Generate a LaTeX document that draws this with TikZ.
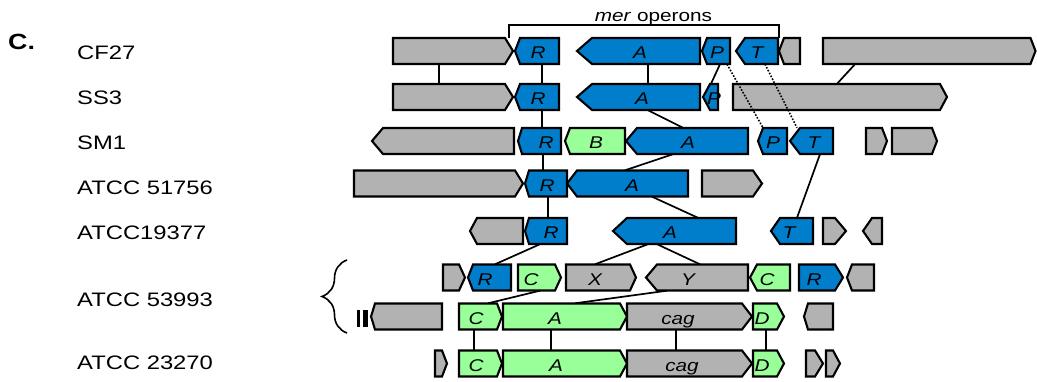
\documentclass[tikz,border=0pt]{standalone}
\usepackage{fontspec}
\setmainfont{Liberation Sans}[FakeStretch=1.22]
\usetikzlibrary{decorations.pathreplacing}

\definecolor{merblue}{RGB}{0,126,204}
\definecolor{orfgreen}{RGB}{153,255,153}
\definecolor{orfgray}{RGB}{178,178,178}

\newcommand{\orffont}{\fontsize{17}{19}\selectfont\itshape}
\newcommand{\strainfont}{\fontsize{19.5}{22}\selectfont}
\def\hh{13}

\tikzset{
  genebox/.style={draw=black, line width=2.1pt, line join=miter},
  grayorf/.style={fill=orfgray},
  blueorf/.style={fill=merblue},
  greenorf/.style={fill=orfgreen},
  geneslot/.style={inner sep=0pt, minimum height=26pt},
  genetext/.style={inner sep=0pt, font=\orffont, text height=12.2pt, text depth=0pt},
  strain/.style={anchor=base west, inner sep=0pt, font=\strainfont},
  link/.style={line width=1.7pt},
  dotlink/.style={line width=1.6pt, dash pattern=on 1.6pt off 1.6pt},
}

% gene pointing right: name, fill, left x, right x (tip), row y, tip length, label x, label
\newcommand{\geneR}[8]{%
  \draw[genebox,#2] (#3,#5-\hh) -- (#4-#6,#5-\hh) -- (#4,#5) -- (#4-#6,#5+\hh) -- (#3,#5+\hh) -- cycle;
  \node[geneslot,minimum width={(#4-#3)*1pt}] (#1) at ({(#3+#4)/2},#5) {};
  \ifx&#8&\else\node[genetext] (#1-t) at (#7,#5+1.5) {#8};\fi}
% gene pointing left: name, fill, left x (tip), right x, row y, tip length, label x, label
\newcommand{\geneL}[8]{%
  \draw[genebox,#2] (#3,#5) -- (#3+#6,#5-\hh) -- (#4,#5-\hh) -- (#4,#5+\hh) -- (#3+#6,#5+\hh) -- cycle;
  \node[geneslot,minimum width={(#4-#3)*1pt}] (#1) at ({(#3+#4)/2},#5) {};
  \ifx&#8&\else\node[genetext] (#1-t) at (#7,#5+1.5) {#8};\fi}

\begin{document}
\begin{tikzpicture}[x=1pt, y=-1pt]
\useasboundingbox (0,0) rectangle (1037,382);

% panel letter and strain names
\node[anchor=base west, inner sep=0pt, font=\fontsize{22}{24}\selectfont\bfseries] (panel) at (8,50) {C.};
\node[strain] (sCF) at (77,60) {CF27};
\node[strain] (sSS) at (77,105) {SS3};
\node[strain] (sSM) at (77,150) {SM1};
\node[strain] (sA1) at (77,195) {ATCC 51756};
\node[strain] (sA2) at (77,240) {ATCC19377};
\node[strain] (sA3) at (77,307) {ATCC 53993};
\node[strain] (sA4) at (77,370) {ATCC 23270};

% mer operon bracket
\coordinate (merL) at (509,38);
\coordinate (merR) at (779,38);
\draw[line width=1.5pt] (merL) |- (644,25) -| (merR);
\node[anchor=base, inner sep=0pt, font=\fontsize{17}{19}\selectfont] (merlbl) at (653.5,21.5) {\textit{mer} operons};

% brace grouping the two ATCC 53993 contigs
\coordinate (brBot) at (347,333);
\coordinate (brTop) at (347,260);
\draw[line width=1.6pt, decorate, decoration={brace, amplitude=25pt}] (brBot) -- (brTop);

% contig break mark
\fill (356.5,310) rectangle (360,327);
\fill (363,310) rectangle (367.5,327);

% CF27
\geneR{a1}{grayorf}{393}{513}{51}{8}{0}{}
\geneL{a2}{blueorf}{515}{559}{51}{5}{538}{R}
\geneL{a3}{blueorf}{577}{700}{51}{15}{640}{A}
\geneL{a4}{blueorf}{702}{730}{51}{5}{717}{P}
\geneL{a5}{blueorf}{736}{778}{51}{9}{757}{T}
\geneL{a6}{grayorf}{779}{800}{51}{5}{0}{}
\geneR{a7}{grayorf}{823}{1035.5}{51}{5}{0}{}

% SS3
\geneR{b1}{grayorf}{393}{513}{97}{8}{0}{}
\geneL{b2}{blueorf}{515}{559}{97}{5}{538}{R}
\geneL{b3}{blueorf}{577}{700}{97}{15}{642}{A}
\geneL{b4}{blueorf}{703}{718}{97}{7}{714}{P}
\geneR{b5}{grayorf}{733}{947}{97}{7}{0}{}

% SM1
\geneL{c1}{grayorf}{372}{514}{141}{11}{0}{}
\geneL{c2}{blueorf}{518}{561}{141}{4}{546}{R}
\geneL{c3}{greenorf}{565}{625}{141}{5}{596}{B}
\geneL{c4}{blueorf}{626}{748}{141}{11}{688}{A}
\geneL{c5}{blueorf}{758}{787}{141}{5}{773}{P}
\geneL{c6}{blueorf}{790}{833}{141}{10}{814}{T}
\geneR{c7}{grayorf}{866}{887}{141}{5}{0}{}
\geneR{c8}{grayorf}{892}{937}{141}{5}{0}{}

% ATCC 51756
\geneR{d1}{grayorf}{354}{523}{183.5}{8}{0}{}
\geneL{d2}{blueorf}{525}{567}{183.5}{4}{547}{R}
\geneL{d3}{blueorf}{567}{688}{183.5}{10}{632}{A}
\geneR{d4}{grayorf}{702}{762}{183.5}{9}{0}{}

% ATCC19377
\geneL{e1}{grayorf}{470}{523}{231}{7}{0}{}
\geneL{e2}{blueorf}{525}{567}{231}{4}{551}{R}
\geneL{e3}{blueorf}{613}{736}{231}{14}{670}{A}
\geneL{e4}{blueorf}{771}{813}{231}{9}{789}{T}
\geneR{e5}{grayorf}{823}{846}{231}{11}{0}{}
\geneL{e6}{grayorf}{863}{882}{231}{9}{0}{}

% ATCC 53993, first contig
\geneR{f1}{grayorf}{443}{465}{277.5}{6}{0}{}
\geneL{f2}{blueorf}{468}{511}{277.5}{5}{485}{R}
\geneR{f3}{greenorf}{518}{561}{277.5}{6}{531}{C}
\geneR{f4}{grayorf}{566}{636}{277.5}{6}{595}{X}
\geneL{f5}{grayorf}{646}{748}{277.5}{11}{688}{Y}
\geneL{f6}{greenorf}{750}{790}{277.5}{7}{767}{C}
\geneR{f7}{blueorf}{799}{843}{277.5}{8}{814}{R}
\geneL{f8}{grayorf}{847}{874}{277.5}{5}{0}{}

% ATCC 53993, second contig
\geneL{g1}{grayorf}{371}{442}{316.5}{4}{0}{}
\geneR{g2}{greenorf}{459}{502}{316.5}{5}{476}{C}
\geneR{g3}{greenorf}{503}{627}{316.5}{7}{555}{A}
\geneR{g4}{grayorf}{627}{752}{316.5}{10}{678}{cag}
\geneR{g5}{greenorf}{753}{784}{316.5}{7}{762}{D}
\geneL{g6}{grayorf}{804}{833}{316.5}{4}{0}{}

% ATCC 23270
\geneR{h1}{grayorf}{435}{447}{363.5}{5}{0}{}
\geneR{h2}{greenorf}{459}{502}{363.5}{5}{476}{C}
\geneR{h3}{greenorf}{503}{627}{363.5}{7}{556}{A}
\geneR{h4}{grayorf}{627}{752}{363.5}{10}{682}{cag}
\geneR{h5}{greenorf}{753}{784}{363.5}{7}{762}{D}
\geneR{h6}{grayorf}{806}{823}{363.5}{8}{0}{}
\geneR{h7}{grayorf}{826}{840}{363.5}{7}{0}{}

% homology links
\draw[link] (a1.south -| 439,0) -- (b1.north -| 439,0);
\draw[link] (a2.south -| 542,0) -- (b2.north -| 542,0);
\draw[link] (a3.south -| 648,0) -- (b3.north -| 648,0);
\draw[link] (a4.south -| 720,0) -- (b4.north -| 711,0);
\draw[link] (a7.south -| 855,0) -- (b5.north -| 837,0);
\draw[dotlink] (a4.south -| 727,0) -- (c5.north -| 763,0);
\draw[dotlink] (a5.south -| 765,0) -- (c6.north -| 797,0);

\draw[link] (b2.south -| 542,0) -- (c2.north -| 542,0);
\draw[link] (b3.south -| 648,0) -- (c4.north -| 683,0);

\draw[link] (c2.south -| 543,0) -- (d2.north -| 543,0);
\draw[link] (c4.south -| 673,0) -- (d3.north -| 625,0);
\draw[link] (c6.south -| 820,0) -- (e4.north -| 797,0);

\draw[link] (d2.south -| 548,0) -- (e2.north -| 548,0);
\draw[link] (d3.south -| 652,0) -- (e3.north -| 698,0);

\draw[link] (e2.south -| 540,0) -- (f2.north -| 495,0);
\draw[link] (e3.south -| 648,0) -- (f4.north -| 595,0);
\draw[link] (e3.south -| 657,0) -- (f5.north -| 700,0);

\draw[link] (f3.south -| 540,0) -- (g2.north -| 488,0);
\draw[link] (f5.south -| 667,0) -- (g3.north -| 575,0);

\draw[link] (g2.south -| 474,0) -- (h2.north -| 474,0);
\draw[link] (g3.south -| 551,0) -- (h3.north -| 551,0);
\draw[link] (g4.south -| 676,0) -- (h4.north -| 676,0);
\draw[link] (g5.south -| 766,0) -- (h5.north -| 766,0);
\end{tikzpicture}
\end{document}
